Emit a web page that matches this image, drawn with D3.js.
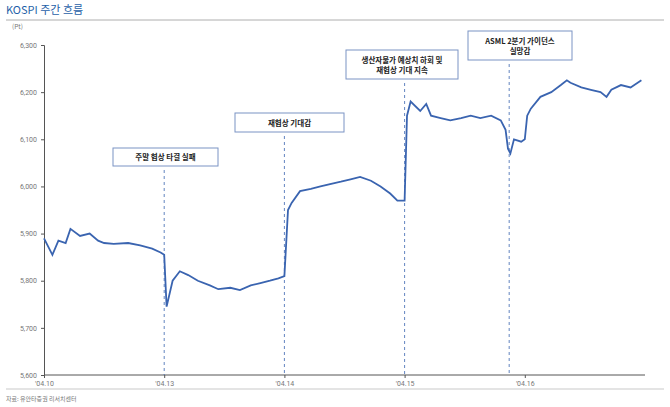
<!DOCTYPE html>
<html>
<head>
<meta charset="utf-8">
<script src="https://cdn.jsdelivr.net/npm/d3@7"></script>
<style>
body { margin: 0; background: #fff; font-family: "Noto Sans CJK KR", "Noto Sans", sans-serif; }
</style>
</head>
<body>
<svg id="chart"></svg>
<script>
const width = 670, height = 407;

// x position in trading days from 04.10, value in Pt
const pos = [0, 0.07, 0.12, 0.18, 0.22, 0.3, 0.38, 0.45, 0.5, 0.58, 0.7, 0.8, 0.9, 0.97, 1.0,
  1.02, 1.07, 1.13, 1.2, 1.28, 1.38, 1.45, 1.55, 1.63, 1.72, 1.8, 1.88, 1.95, 2.0,
  2.03, 2.06, 2.13, 2.22, 2.3, 2.38, 2.47, 2.55, 2.63, 2.72, 2.8, 2.88, 2.94, 3.0,
  3.02, 3.05, 3.13, 3.18, 3.22, 3.3, 3.38, 3.47, 3.55, 3.63, 3.72, 3.8, 3.84, 3.86, 3.88, 3.91, 3.97, 4.0,
  4.02, 4.05, 4.13, 4.22, 4.3, 4.35, 4.38, 4.47, 4.55, 4.63, 4.68, 4.72, 4.8, 4.88, 4.97];
const values = [5890, 5855, 5885, 5880, 5910, 5895, 5900, 5885, 5880, 5878, 5880, 5875, 5868, 5860, 5855,
  5745, 5800, 5820, 5812, 5800, 5790, 5782, 5785, 5780, 5790, 5795, 5800, 5805, 5810,
  5950, 5965, 5990, 5995, 6000, 6005, 6010, 6015, 6020, 6012, 6000, 5985, 5970, 5970,
  6150, 6180, 6160, 6175, 6150, 6145, 6140, 6145, 6150, 6145, 6150, 6140, 6120, 6080, 6070, 6100, 6095, 6100,
  6150, 6165, 6190, 6200, 6215, 6225, 6220, 6210, 6205, 6200, 6190, 6205, 6215, 6210, 6225];

const tickPos = [0, 1, 2, 3, 4];
const tickLabels = ["'04.10", "'04.13", "'04.14", "'04.15", "'04.16"];
const yTicks = [5600, 5700, 5800, 5900, 6000, 6100, 6200, 6300];

const notes = [
  { at: 1.0, lines: ["주말 협상 타결 실패"], x0: 113, x1: 218, y0: 148, y1: 166 },
  { at: 2.0, lines: ["재협상 기대감"], x0: 235, x1: 344, y0: 113, y1: 132 },
  { at: 3.0, lines: ["생산자물가 예상치 하회 및", "재협상 기대 지속"], x0: 346, x1: 458, y0: 50, y1: 79 },
  { at: 3.87, lines: ["ASML 2분기 가이던스", "실망감"], x0: 468, x1: 572, y0: 31, y1: 60 }
];

const svg = d3.select("#chart").attr("width", width).attr("height", height);

const x = d3.scaleLinear().domain([0, 5]).range([44, 645]);
const y = d3.scaleLinear().domain([5600, 6300]).range([375, 45]);

// title and rules
svg.append("text").attr("x", 6).attr("y", 14).attr("font-size", 11).attr("fill", "#1f5fa8").text("KOSPI 주간 흐름");
svg.append("line").attr("x1", 6).attr("x2", 664).attr("y1", 20).attr("y2", 20).attr("stroke", "#999").attr("stroke-width", 0.8);
svg.append("text").attr("x", 12).attr("y", 29).attr("font-size", 6.5).attr("fill", "#777").text("(Pt)");
svg.append("line").attr("x1", 6).attr("x2", 664).attr("y1", 389).attr("y2", 389).attr("stroke", "#bbb").attr("stroke-width", 0.8);
svg.append("text").attr("x", 6).attr("y", 401).attr("font-size", 6).attr("fill", "#777").text("자료: 유안타증권 리서치센터");

// y axis
const yAxis = svg.append("g").attr("transform", "translate(44,0)")
  .call(d3.axisLeft(y).tickValues(yTicks).tickFormat(d3.format(",")).tickSize(3).tickPadding(4));
yAxis.select(".domain").attr("stroke", "#555");
yAxis.selectAll("line").attr("stroke", "#555");
yAxis.selectAll("text").attr("font-size", 7).attr("fill", "#777").attr("font-family", "Roboto, sans-serif");

// x axis
const xAxis = svg.append("g").attr("transform", "translate(0,375)")
  .call(d3.axisBottom(x).tickValues(tickPos).tickFormat((d, i) => tickLabels[i]).tickSize(3).tickSizeOuter(0).tickPadding(3));
xAxis.select(".domain").attr("stroke", "#555").attr("d", "M44,0H645");
xAxis.selectAll("line").attr("stroke", "#555");
xAxis.selectAll("text").attr("font-size", 7).attr("fill", "#777").attr("font-family", "Roboto, sans-serif");

// annotations
notes.forEach(n => {
  svg.append("line").attr("x1", x(n.at)).attr("x2", x(n.at)).attr("y1", n.y1 + 4).attr("y2", 375)
    .attr("stroke", "#3a64b0").attr("stroke-width", 0.8).attr("stroke-dasharray", "3,3");
  svg.append("rect").attr("x", n.x0).attr("y", n.y0).attr("width", n.x1 - n.x0).attr("height", n.y1 - n.y0)
    .attr("fill", "#fff").attr("stroke", "#7b93c4").attr("stroke-width", 1);
  const cy = (n.y0 + n.y1) / 2 - (n.lines.length - 1) * 5;
  n.lines.forEach((t, i) => {
    svg.append("text").attr("x", (n.x0 + n.x1) / 2).attr("y", cy + i * 10 + 3)
      .attr("text-anchor", "middle").attr("font-size", 7.5).attr("font-weight", "bold").attr("fill", "#222").text(t);
  });
});

// line
svg.append("path").datum(pos.map((p, i) => [p, values[i]]))
  .attr("fill", "none").attr("stroke", "#3a64b0").attr("stroke-width", 1.8)
  .attr("d", d3.line().x(d => x(d[0])).y(d => y(d[1])));
</script>
</body>
</html>
